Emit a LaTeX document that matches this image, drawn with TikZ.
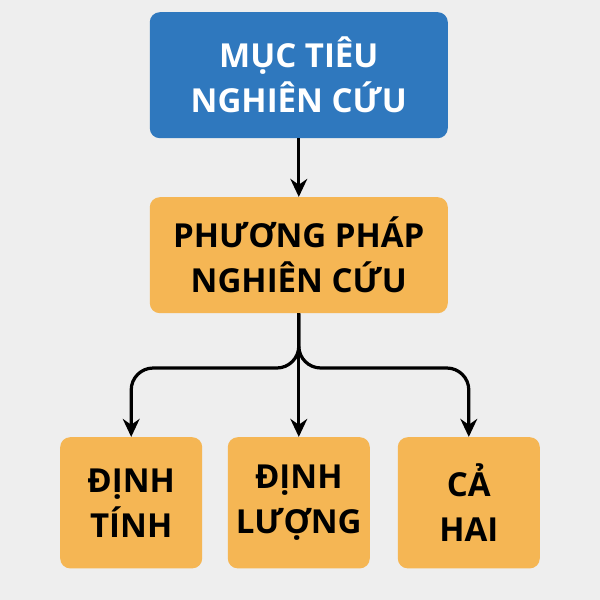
\documentclass[tikz,border=0pt]{standalone}
\usepackage{fontspec}
\setmainfont{Open Sans}
\usetikzlibrary{arrows.meta,positioning}

\definecolor{goalblue}{HTML}{2F78BE}
\definecolor{methodorange}{HTML}{F5B654}
\definecolor{bggray}{HTML}{EEEEEE}
\tikzset{
  box/.style={rounded corners=0.25cm,align=center,font=\fontsize{23.5}{32}\selectfont\bfseries},
  goalbox/.style={box,fill=goalblue,text=white,minimum width=7.45cm,minimum height=3.15cm},
  methodbox/.style={box,fill=methodorange,text=black,minimum width=7.45cm,minimum height=2.9cm},
  kindbox/.style={box,fill=methodorange,text=black,minimum width=3.55cm,minimum height=3.28cm},
  link/.style={line width=2.3pt,-{Stealth[length=0.45cm,width=0.42cm]},rounded corners=0.55cm}
}

\begin{document}
\begin{tikzpicture}
\fill[bggray] (0,0) rectangle (15,-15);
\useasboundingbox (0,0) rectangle (15,-15);

%khung chính
\node[goalbox] (goal) at (7.47,-1.88) {MỤC TIÊU\\NGHIÊN CỨU};
\node[methodbox] (method) at (7.47,-6.38) {PHƯƠNG PHÁP\\NGHIÊN CỨU};

%ba hướng
\node[kindbox] (qual) at (3.28,-12.57) {ĐỊNH\\TÍNH};
\node[kindbox] (quant) at (7.47,-12.57) {ĐỊNH\\LƯỢNG};
\node[kindbox] (both) at (11.72,-12.57) {CẢ\\HAI};

\draw[link] (goal) -- (method);
\draw[link] (method.south) |- (3.28,-9.2) -- (qual.north);
\draw[link] (method.south) |- (11.72,-9.2) -- (both.north);
\draw[link] (method.south) -- (quant.north);
\end{tikzpicture}
\end{document}
